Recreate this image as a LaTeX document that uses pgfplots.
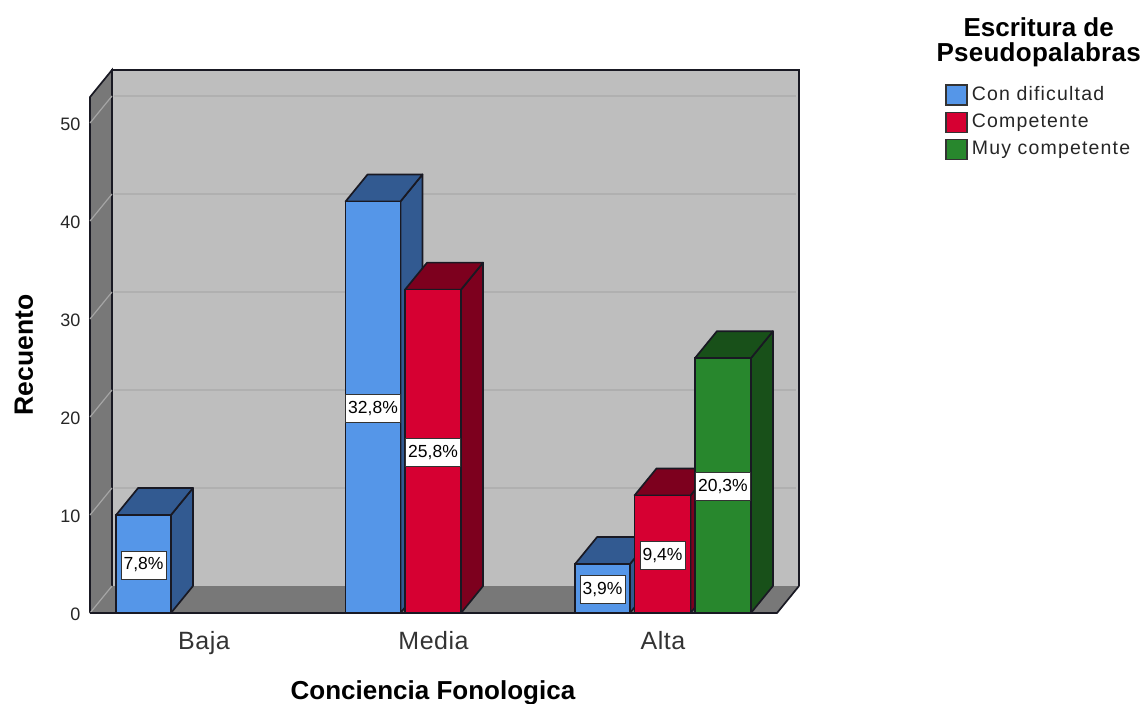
\documentclass[border=0pt]{standalone}
\usepackage{pgfplots}
\pgfplotsset{compat=1.18}
\usepackage{fontspec}
\setmainfont{Liberation Sans}
\definecolor{wallback}{RGB}{190,190,190}
\definecolor{wallside}{RGB}{120,120,120}
\definecolor{gridback}{RGB}{176,176,176}
\definecolor{gridside}{RGB}{165,165,165}
\definecolor{bluef}{RGB}{85,150,232}
\definecolor{blued}{RGB}{50,90,145}
\definecolor{redf}{RGB}{214,0,50}
\definecolor{redd}{RGB}{125,0,30}
\definecolor{greenf}{RGB}{40,135,45}
\definecolor{greend}{RGB}{24,80,25}
\definecolor{edgec}{RGB}{25,25,35}
\newcommand{\fs}[1]{\fontsize{#1}{#1}\selectfont}
\newcommand{\ls}[1]{\addfontfeatures{LetterSpace=#1}}
\tikzset{dlab/.style={fill=white,draw=black!80,line width=0.9pt,inner xsep=2.5pt,inner ysep=0pt,minimum height=28pt,font=\fs{17.5},yshift=-1pt}}
\pgfplotsset{
  face/.style={forget plot,line width=1.7pt,draw=edgec,line join=round},
  every axis x label/.style={at={(axis description cs:0.4838,-0.1465)},anchor=center},
  every axis y label/.style={at={(axis description cs:-0.0931,0.475)},rotate=90,anchor=center},
}
\begin{document}
\begin{tikzpicture}
\path[use as bounding box] (0,0) rectangle (1146pt,-704pt);
\begin{axis}[
  at={(90pt,-613pt)}, anchor=south west,
  scale only axis, width=709pt, height=543pt,
  xmin=-0.4967, xmax=2.5926, ymin=0, ymax=55.41,
  clip=false,
  axis line style={draw=none},
  major tick length=0pt,
  xtick={0,1,2}, xticklabels={Baja,Media,Alta},
  ytick={0,10,20,30,40,50},
  x tick label style={font=\fs{25}\ls{2},yshift=-15pt,text=black!80},
  y tick label style={font=\fs{18},xshift=-6pt,yshift=-1pt,text=black!85,/pgf/number format/assume math mode=true},
  xlabel={\textbf{Conciencia Fonologica}},
  ylabel={\textbf{Recuento}},
  x label style={font=\fs{26}},
  y label style={font=\fs{26.5}},
  legend style={at={(axis description cs:1.206,0.974)},anchor=north west,draw=none,fill=none,
    font=\fs{19.5}\ls{6},inner sep=0pt,row sep=5.5pt,text=black!85,
    nodes={inner sep=0pt,anchor=west,text height=14pt,text depth=4pt}},
  legend cell align=left,
  legend image code/.code={\draw[#1,line width=1.7pt,draw=black!80] (0pt,-10pt) rectangle (21pt,10pt); \path (25pt,0pt);},
]
% walls
\addplot[forget plot,fill=wallback,draw=edgec,line width=1.7pt] coordinates {(-0.4009,2.755)(-0.4009,55.41)(2.5926,55.41)(2.5926,2.755)};
\addplot[forget plot,fill=wallside,draw=none] coordinates {(-0.4967,0)(-0.4009,2.755)(2.5926,2.755)(2.4967,0)} -- cycle;
\addplot[forget plot,fill=wallside,draw=edgec,line width=1.7pt] coordinates {(-0.4967,0)(-0.4967,52.65)(-0.4009,55.41)(-0.4009,2.755)};
% grid
\addplot[forget plot,gridside,line width=1.2pt] coordinates {(-0.4967,50)(-0.4009,52.755)};
\addplot[forget plot,gridback,line width=1.6pt] coordinates {(-0.39,52.755)(2.58,52.755)};
\addplot[forget plot,gridside,line width=1.2pt] coordinates {(-0.4967,40)(-0.4009,42.755)};
\addplot[forget plot,gridback,line width=1.6pt] coordinates {(-0.39,42.755)(2.58,42.755)};
\addplot[forget plot,gridside,line width=1.2pt] coordinates {(-0.4967,30)(-0.4009,32.755)};
\addplot[forget plot,gridback,line width=1.6pt] coordinates {(-0.39,32.755)(2.58,32.755)};
\addplot[forget plot,gridside,line width=1.2pt] coordinates {(-0.4967,20)(-0.4009,22.755)};
\addplot[forget plot,gridback,line width=1.6pt] coordinates {(-0.39,22.755)(2.58,22.755)};
\addplot[forget plot,gridside,line width=1.2pt] coordinates {(-0.4967,10)(-0.4009,12.755)};
\addplot[forget plot,gridback,line width=1.6pt] coordinates {(-0.39,12.755)(2.58,12.755)};
\addplot[forget plot,gridside,line width=1.2pt] coordinates {(-0.4967,0)(-0.4009,2.755)};
% floor outline
\addplot[forget plot,edgec,line width=1.7pt] coordinates {(-0.4967,0)(2.4967,0)(2.5926,2.755)};
% blue
\addplot[face,fill=blued] coordinates {(-0.144,0)(-0.048,2.755)(-0.048,12.755)(-0.144,10)} -- cycle;
\addplot[face,fill=blued] coordinates {(-0.383,10)(-0.144,10)(-0.048,12.755)(-0.287,12.755)} -- cycle;
\addplot[face,fill=blued] coordinates {(0.856,0)(0.952,2.755)(0.952,44.755)(0.856,42)} -- cycle;
\addplot[face,fill=blued] coordinates {(0.617,42)(0.856,42)(0.952,44.755)(0.713,44.755)} -- cycle;
\addplot[face,fill=blued] coordinates {(1.856,0)(1.952,2.755)(1.952,7.755)(1.856,5)} -- cycle;
\addplot[face,fill=blued] coordinates {(1.617,5)(1.856,5)(1.952,7.755)(1.713,7.755)} -- cycle;
\addplot[ybar,bar width=55pt,bar shift=-60.5pt,fill=bluef,draw=edgec,line width=1.7pt] coordinates {(0,10)(1,42)(2,5)};
\addlegendentry{Con dificultad}
% red
\addplot[face,fill=redd] coordinates {(1.120,0)(1.216,2.755)(1.216,35.755)(1.120,33)} -- cycle;
\addplot[face,fill=redd] coordinates {(0.876,33)(1.120,33)(1.216,35.755)(0.972,35.755)} -- cycle;
\addplot[face,fill=redd] coordinates {(2.120,0)(2.216,2.755)(2.216,14.755)(2.120,12)} -- cycle;
\addplot[face,fill=redd] coordinates {(1.876,12)(2.120,12)(2.216,14.755)(1.972,14.755)} -- cycle;
\addplot[ybar,bar width=56pt,bar shift=-0.5pt,fill=redf,draw=edgec,line width=1.7pt] coordinates {(1,33)(2,12)};
\addlegendentry{Competente}
% green
\addplot[face,fill=greend] coordinates {(2.383,0)(2.479,2.755)(2.479,28.755)(2.383,26)} -- cycle;
\addplot[face,fill=greend] coordinates {(2.139,26)(2.383,26)(2.479,28.755)(2.235,28.755)} -- cycle;
\addplot[ybar,bar width=56pt,bar shift=60pt,fill=greenf,draw=edgec,line width=1.7pt] coordinates {(2,26)};
\addlegendentry{Muy competente}
% labels
\node[dlab] at (axis cs:-0.2635,5) {7,8\%};
\node[dlab] at (axis cs:0.7365,21) {32,8\%};
\node[dlab] at (axis cs:0.998,16.5) {25,8\%};
\node[dlab] at (axis cs:1.7365,2.5) {3,9\%};
\node[dlab] at (axis cs:1.998,6) {9,4\%};
\node[dlab] at (axis cs:2.261,13) {20,3\%};
\node[font=\fs{26}\bfseries,align=center,text=black,inner sep=0pt] at (axis description cs:1.338,1.0505) {\rule{0pt}{19pt}Escritura de\\[-1pt]\addfontfeatures{LetterSpace=1}Pseudopalabras};
\end{axis}
\end{tikzpicture}
\end{document}
